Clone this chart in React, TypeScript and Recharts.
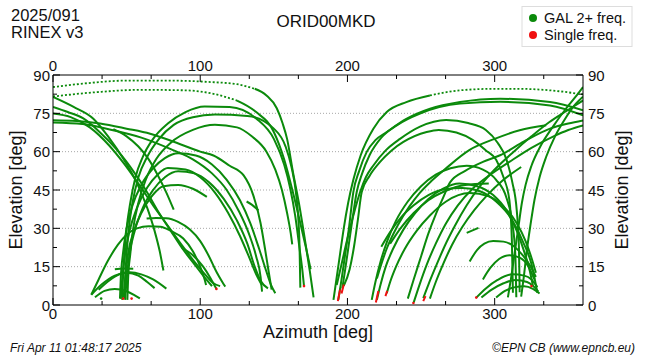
import { ComposedChart, Line, XAxis, YAxis, ReferenceLine } from "recharts";

// station / header info
const station = "ORID00MKD";
const dayLabel = "2025/091";
const formatLabel = "RINEX v3";
const legendItems = [
  { label: "GAL 2+ freq.", color: "#0b8a0b" },
  { label: "Single freq.", color: "#f01010" },
];
const footerLeft = "Fri Apr 11 01:48:17 2025";
const footerRight = "\u00A9EPN CB (www.epncb.eu)";

// axis ticks
const azTicks = [0, 33.333, 66.667, 100, 133.333, 166.667, 200, 233.333, 266.667, 300, 333.333];
const elTicks = [0, 7.5, 15, 22.5, 30, 37.5, 45, 52.5, 60, 67.5, 75, 82.5, 90];
const elGrid = [15, 30, 45, 60, 75];

// satellite tracks, [azimuth, elevation] in degrees
const leftDotted: number[][][] = [
  [[0, 85.3], [20, 86.6], [50, 87.8], [80, 87.8], [105, 87.3], [125, 86.4], [137, 84.6]],
  [[0, 81.6], [30, 83.3], [60, 84.2], [90, 84], [110, 82.5], [125, 80]],
];

const leftTracks: number[][][] = [
  [[137, 84.6], [145, 82], [152, 77], [156, 71], [159, 65], [163, 52], [167, 40], [171, 26], [174.5, 13], [177, 3]],
  [[125, 80], [138, 75.5], [150, 67.7], [157, 57], [163, 44], [168, 32], [172, 22], [175, 14]],
  [[47, 2], [47.5, 10], [48.5, 20], [50, 30], [52.5, 40], [56, 50], [61, 58], [68, 65], [78, 71], [90, 75.5], [103, 77.7], [120, 77.5], [138, 73], [150, 65], [157, 55], [161, 46], [164.5, 35], [167.5, 22], [169.5, 13], [170.5, 7.4]],
  [[48.5, 2.5], [49, 10], [50, 20], [51.5, 30], [54, 40], [58, 50], [64, 58], [72, 65], [82, 70.5], [95, 73.5], [110, 74.5], [132, 74], [150, 69], [158, 62], [162, 54], [165, 44], [166.5, 35], [167.5, 22], [168, 6.8]],
  [[50.5, 2], [51, 10], [52.5, 20], [54.5, 30], [58, 40], [63, 49], [70, 57], [80, 63.5], [95, 68.5], [110, 70.5], [125, 69.5], [135, 66], [145, 60], [151, 53], [155.5, 45], [159, 36], [161.5, 28], [162.5, 23.7]],
  [[0, 72.3], [16, 72], [32, 71], [50, 69], [66, 67], [86, 63], [100, 60], [109, 58.5], [120, 54.5], [129.5, 50.7], [136, 43], [141, 32], [144, 22], [146.5, 13], [148.5, 6]],
  [[0, 71.4], [20, 70.8], [40, 68.5], [60, 65.5], [80, 61], [95, 57], [108, 51.5], [118, 45], [126, 37], [133, 28], [138, 19], [141, 11], [142, 5.2]],
  [[45.5, 2.5], [46, 10], [47.5, 20], [50, 30], [54, 39], [60, 47], [68, 53.5], [76, 57.5], [85, 59.4], [97, 58.5], [108, 55], [118, 49], [127, 41], [134, 32], [140, 22], [145, 13], [148, 8], [151, 4.6]],
  [[46, 2.5], [47, 10], [49, 20], [52, 29], [57, 38], [64, 46], [71, 51], [78, 53.6], [90, 53], [100, 50], [110, 44], [119, 36], [127, 27], [133, 19], [138, 12], [141.8, 7.8]],
  [[49, 2], [50, 10], [52, 20], [55.5, 29], [61, 38], [68, 45], [76, 50], [85, 52.3], [96, 51.5], [106, 48], [116, 41.5], [125, 33], [132, 24], [137, 15], [141, 9.5], [146, 6.5]],
  [[41, 68.8], [50, 66], [58, 62], [65, 57], [71, 51], [77, 44], [82, 37.3]],
  [[131.5, 40.5], [135, 39.3], [139.5, 37]],
  [[26, 4], [31, 10], [37, 17], [44, 23.5], [50, 27.5], [57, 30], [65, 30.8], [73, 30.6], [80, 29], [88.5, 26], [95, 21], [100, 15], [103, 10], [104, 7.8]],
  [[63.6, 33.8], [70, 34], [77, 33.9], [85, 32.5], [93, 29.5], [100, 25], [106, 19], [111, 13], [115, 9], [117, 7.2]],
  [[48, 3], [49, 10], [51, 20], [55, 29], [60, 36], [67, 42.5], [75, 46.5], [85, 47], [95, 45.5], [104.5, 42.3]],
  [[0, 77.5], [10, 75.5], [20.6, 73], [32, 67.5], [43, 61], [50, 56], [55, 52], [63, 45], [71, 37], [80, 29], [88, 22], [96, 16], [102, 11.5], [108, 7.4]],
  [[0, 74.9], [12, 73.5], [25, 69.5], [38, 62.5], [48, 55.5], [58, 47.5], [68, 39], [78, 31], [88, 23], [96, 17], [104, 11.5], [109, 8.5], [113.5, 7.4]],
  [[87.5, 22.4], [95, 19.5], [102, 15], [107, 10.5], [111, 6.3]],
  [[0, 81.4], [14, 77.5], [27.4, 72.9], [38, 65.5], [47.8, 57.2], [56.8, 48], [64, 38], [69, 29], [72.5, 21], [75, 13.5]],
  [[26, 4], [33, 8], [42, 11.5], [50, 12.6], [58, 11.5], [64, 9], [69, 6.6]],
  [[28.5, 3], [35, 5.5], [42, 6.3], [50, 5.4], [55, 4], [59, 2.6]],
  [[31, 6], [38, 9.5], [45, 12], [52, 12.8], [60, 12], [68, 10], [77, 6.4]],
  [[42, 14], [48, 14.3], [54.5, 14.2]],
];

const rightDotted: number[][][] = [
  [[256, 82], [276.5, 84], [300, 84.6], [315, 84.6], [337.6, 84], [360, 82.4]],
];

const rightTracks: number[][][] = [
  [[190.5, 2], [192.5, 10], [195, 20], [197.5, 30], [200.5, 40], [204, 49], [209, 58.6], [217.6, 69], [226.7, 75.5], [240, 79.4], [256, 82]],
  [[193.8, 2], [196, 10], [198.5, 20], [201, 30], [204, 44.2], [208, 52.5], [213.1, 59.9], [219, 64.5], [226.7, 67.7], [240.3, 72.9], [256.1, 76.8], [276.5, 79.4], [303.7, 80.7], [337.6, 79.4], [360, 76.2]],
  [[196.5, 6.5], [198.5, 14], [201, 24], [203.5, 34], [206.3, 44.2], [210, 51.5], [215, 58.6], [223, 65.5], [233.5, 70.3], [249.3, 74.9], [276.5, 78.8], [303.7, 79.5], [337.6, 78.1], [360, 74.2]],
  [[192.7, 7.8], [196, 16], [200, 26], [204, 35], [208.6, 44.2], [212.5, 50], [217.6, 54.6], [226, 60.5], [235.7, 65], [249.3, 69.8], [267, 72.4], [282, 71.2], [294, 68.5], [302, 63.5], [308, 57], [312, 48], [315, 37], [316.5, 22], [317, 5]],
  [[197.5, 7.5], [201.5, 14], [204.5, 23], [207, 33], [209.7, 44.2], [215, 50.5], [222, 55.9], [230, 60.5], [238, 63.8], [253.8, 67.7], [262, 68.5], [274, 67.5], [285, 64.6], [294, 60.5], [301, 56.8], [306, 50], [310, 41], [311.7, 25], [312.4, 4.8]],
  [[216.5, 2], [219, 9], [222.5, 17], [227, 25], [233, 33], [241, 40.5], [250, 46.5], [260, 51], [270, 53.5], [281, 54.5], [292, 53], [301, 49], [308, 42], [312, 32], [314, 20], [314.7, 3]],
  [[220, 2], [222.5, 8], [226, 15], [231, 22], [238, 29.5], [246, 36], [255, 41.5], [265, 45.5], [276, 47.5], [288, 46.5], [299, 43], [308, 37], [315, 29], [320, 21], [324, 13], [326, 7.4]],
  [[223, 22.8], [229, 28.5], [236, 34], [245, 39], [255, 43], [266, 45.3], [278, 45.8], [290, 44.5], [301, 40.5], [311, 34], [319, 25], [325, 16], [329, 4.8]],
  [[226.7, 4.6], [229, 9], [233, 15], [239, 22], [247, 29], [256, 35], [267, 40.5], [283, 43.8], [296, 42.5], [306, 38.5], [315, 32], [321, 25], [325, 18.5], [328, 12.6]],
  [[220, 10.4], [223, 16], [227, 22.5], [234, 31], [242, 38.5], [249, 43.8], [257, 48.5], [266, 53], [283, 60.7], [300, 65], [317, 68.4], [335, 70.3]],
  [[229, 24], [236, 30], [245, 36], [255, 41], [266, 44.5], [280, 47], [296, 47.5]],
  [[241, 2.5], [245, 10], [250, 19], [255, 28], [260, 35.5], [265, 42], [269.7, 48], [280, 52.5], [292, 56], [303.7, 58.6], [320, 64], [337.6, 69], [350, 71], [360, 72.2]],
  [[245, 1], [249, 8], [254, 16], [260, 24], [267, 32], [275, 39], [285, 45.5], [297, 51], [310, 56], [325, 61.5], [340, 66], [350, 68.5], [360, 70.3]],
  [[251.5, 2.7], [255, 8], [260, 15], [266, 23], [273, 31], [281, 39], [290, 46.5], [300, 53], [312, 59.5], [325, 66], [337, 71.5], [349, 76], [360, 80]],
  [[256, 2.5], [260, 9], [265, 16], [271, 23.5], [278, 30.5], [286, 37], [295, 43], [305, 48.5], [318, 54]],
  [[309, 3], [311, 10], [313.5, 20], [316, 30], [318.5, 40], [321, 47], [325, 54.5], [331, 62], [339.6, 69.8], [348, 76.5], [355, 81.5], [360, 85.3]],
  [[318, 3.3], [320, 12], [322, 22], [324.5, 32], [327, 41], [330.5, 50], [335, 58], [341, 66], [348, 73], [354, 78], [360, 81.5]],
  [[287.5, 2.9], [294, 6.5], [302, 9.8], [312, 12], [320, 11.5], [325, 10], [329, 7]],
  [[291, 2.9], [298, 6], [306, 8.5], [314, 9.8], [322, 9], [326, 7.5], [329.7, 5.2]],
  [[301, 2.9], [307, 5.5], [314, 7], [320, 7.3], [326, 6.3], [330.5, 4.5]],
  [[283, 17], [288, 21.5], [293, 24], [299, 25], [306, 24.8], [313, 23], [319, 19.5], [324, 15.5], [328, 11]],
  [[292, 10], [297, 14.5], [303, 18], [310, 19.5], [317, 18.5], [323, 15], [327, 10]],
  [[281, 28.2], [289, 30.2]],
];

const redSegments: number[][][] = [
  [[193.5, 1.5], [195, 6]],
  [[196, 4.5], [197.5, 8]],
  [[219.3, 1], [221, 5.5]],
  [[225.8, 3.5], [227, 5.5]],
  [[251.5, 1.5], [253, 3.5]],
];
const redDots: number[][] = [
  [47.7, 2.5], [53.4, 2.5], [111, 6.3], [170.5, 7.4], [244.8, 0.8], [287.5, 2.9], [325, 7.4],
];
const greenDots: number[][] = [[32.7, 2.5]];

const GREEN = "#0b8a0b";
const RED = "#f01010";
const FONT = "'Liberation Sans', Arial, Helvetica, sans-serif";

const rows = (t: number[][]) => t.map(([az, el]) => ({ az, el }));

function AxisTick(props: any) {
  const { x, y, payload, side } = props;
  const v = payload.value;
  const horiz = side === "top" || side === "bottom";
  const major = horiz ? Math.abs(v - Math.round(v / 100) * 100) < 0.01 : v % 15 === 0;
  const len = major ? 7 : 4;
  let line, label;
  if (side === "bottom") {
    line = <line x1={x} y1={y} x2={x} y2={y - len} stroke="#000" />;
    label = major ? <text x={x} y={y + 14} textAnchor="middle">{Math.round(v)}</text> : null;
  } else if (side === "top") {
    line = <line x1={x} y1={y} x2={x} y2={y + len} stroke="#000" />;
    label = major ? <text x={x} y={y - 4} textAnchor="middle">{Math.round(v)}</text> : null;
  } else if (side === "left") {
    line = <line x1={x} y1={y} x2={x + len} y2={y} stroke="#000" />;
    label = major ? <text x={x - 3} y={y + 5.5} textAnchor="end">{v}</text> : null;
  } else {
    line = <line x1={x} y1={y} x2={x - len} y2={y} stroke="#000" />;
    label = major ? <text x={x + 5} y={y + 5.5} textAnchor="start">{v}</text> : null;
  }
  return (
    <g fontFamily={FONT} fontSize={15} fill="#111">
      {line}
      {label}
    </g>
  );
}

export default function App() {
  const trackLine = (t: number[][], key: string, color: string, dotted = false) => (
    <Line
      key={key}
      data={rows(t)}
      dataKey="el"
      xAxisId="b"
      yAxisId="l"
      type="monotone"
      stroke={color}
      strokeWidth={dotted ? 1.8 : 2}
      strokeDasharray={dotted ? "2 2" : undefined}
      dot={false}
      activeDot={false}
      isAnimationActive={false}
    />
  );
  const dotLine = (p: number[], key: string, color: string) => (
    <Line
      key={key}
      data={rows([p])}
      dataKey="el"
      xAxisId="b"
      yAxisId="l"
      stroke="none"
      dot={{ r: 1.3, fill: color, stroke: "none" }}
      activeDot={false}
      isAnimationActive={false}
    />
  );

  return (
    <div style={{ position: "absolute", left: 0, top: 0, width: 650, height: 360, background: "#fff" }}>
      <ComposedChart width={650} height={360} margin={{ top: 0, right: 0, bottom: 0, left: 0 }}>
        <XAxis
          xAxisId="b"
          type="number"
          dataKey="az"
          domain={[0, 360]}
          ticks={azTicks}
          interval={0}
          allowDataOverflow
          height={55}
          tickSize={0}
          tickMargin={0}
          axisLine={{ stroke: "#000" }}
          tick={(p: any) => <AxisTick {...p} side="bottom" />}
        />
        <XAxis
          xAxisId="t"
          orientation="top"
          type="number"
          dataKey="az"
          domain={[0, 360]}
          ticks={azTicks}
          interval={0}
          allowDataOverflow
          height={75}
          tickSize={0}
          tickMargin={0}
          axisLine={{ stroke: "#000" }}
          tick={(p: any) => <AxisTick {...p} side="top" />}
        />
        <YAxis
          yAxisId="l"
          type="number"
          domain={[0, 90]}
          ticks={elTicks}
          interval={0}
          allowDataOverflow
          width={53}
          tickSize={0}
          tickMargin={0}
          axisLine={{ stroke: "#000" }}
          tick={(p: any) => <AxisTick {...p} side="left" />}
        />
        <YAxis
          yAxisId="r"
          orientation="right"
          type="number"
          domain={[0, 90]}
          ticks={elTicks}
          interval={0}
          allowDataOverflow
          width={67}
          tickSize={0}
          tickMargin={0}
          axisLine={{ stroke: "#000" }}
          tick={(p: any) => <AxisTick {...p} side="right" />}
        />
        {elGrid.map((v) => (
          <ReferenceLine key={"g" + v} xAxisId="b" yAxisId="l" y={v} stroke="#a8a8a8" strokeDasharray="1 2" />
        ))}
        {/* invisible series so the top / right axes are drawn */}
        <Line
          data={rows(greenDots)}
          dataKey="el"
          xAxisId="t"
          yAxisId="r"
          stroke="none"
          dot={false}
          activeDot={false}
          isAnimationActive={false}
        />
        {leftDotted.map((t, i) => trackLine(t, "ld" + i, GREEN, true))}
        {rightDotted.map((t, i) => trackLine(t, "rd" + i, GREEN, true))}
        {leftTracks.map((t, i) => trackLine(t, "l" + i, GREEN))}
        {rightTracks.map((t, i) => trackLine(t, "r" + i, GREEN))}
        {greenDots.map((p, i) => dotLine(p, "gd" + i, GREEN))}
        {redSegments.map((t, i) => trackLine(t, "rs" + i, RED))}
        {redDots.map((p, i) => dotLine(p, "rdt" + i, RED))}
      </ComposedChart>
      <svg
        width={650}
        height={360}
        style={{ position: "absolute", left: 0, top: 0, pointerEvents: "none" }}
        fontFamily={FONT}
      >
        <text x={11} y={21} fontSize={16.5} fill="#111">{dayLabel}</text>
        <text x={11} y={38} fontSize={16.5} fill="#111">{formatLabel}</text>
        <text x={326} y={27} fontSize={17} fill="#111" textAnchor="middle">{station}</text>
        <rect x={522} y={6.5} width={110} height={40} fill="#fff" stroke="#dddddd" />
        {legendItems.map((it, i) => (
          <g key={it.label}>
            <circle cx={533} cy={18 + i * 17} r={4} fill={it.color} />
            <text x={544} y={23 + i * 17} fontSize={14.5} fill="#111">{it.label}</text>
          </g>
        ))}
        <text x={318} y={338} fontSize={18} fill="#111" textAnchor="middle">Azimuth [deg]</text>
        <text transform="translate(22,190) rotate(-90)" fontSize={18} fill="#111" textAnchor="middle">Elevation [deg]</text>
        <text transform="translate(628,190) rotate(-90)" fontSize={18} fill="#111" textAnchor="middle">Elevation [deg]</text>
        <text x={10} y={352} fontSize={12} fontStyle="italic" fill="#111">{footerLeft}</text>
        <text x={635} y={352} fontSize={12} fontStyle="italic" fill="#111" textAnchor="end">{footerRight}</text>
      </svg>
    </div>
  );
}
